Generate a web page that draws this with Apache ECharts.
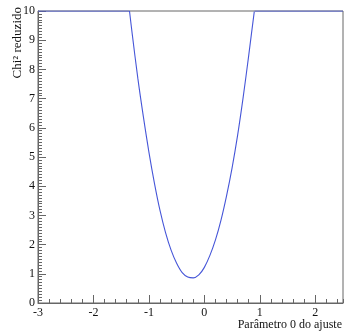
<!DOCTYPE html>
<html>
<head>
<meta charset="utf-8">
<script src="https://cdn.jsdelivr.net/npm/echarts@6/dist/echarts.min.js"></script>
<style>
  html, body { margin: 0; padding: 0; background: #fff; }
  #chart { width: 350px; height: 336px; }
</style>
</head>
<body>
<div id="chart"></div>
<script>
// parâmetro 0 do ajuste (eixo x) e chi² reduzido (cortado em 10)
const paramValues = [-3, -1.35, -1.3, -1.2, -1.1, -1.0, -0.9, -0.8, -0.7, -0.6, -0.5, -0.4, -0.3, -0.2, -0.1,
  0.0, 0.1, 0.2, 0.3, 0.4, 0.5, 0.6, 0.7, 0.8, 0.9, 0.905, 2.5];
const chi2Values = [10, 10, 9.2, 7.7, 6.38, 5.17, 4.1, 3.17, 2.41, 1.81, 1.36, 1.04, 0.89, 0.86, 0.96,
  1.22, 1.63, 2.16, 2.84, 3.67, 4.63, 5.75, 7.05, 8.48, 9.98, 10, 10];

const xTickLabels = [-3, -2, -1, 0, 1, 2];
const yTickLabels = [0, 1, 2, 3, 4, 5, 6, 7, 8, 9, 10];

const xTitle = 'Parâmetro 0 do ajuste';
const yTitle = 'Chi² reduzido';

const serif = '"Liberation Serif", "DejaVu Serif", serif';
const frameColor = '#666';
const curveColor = '#4656d8';

const points = paramValues.map((x, i) => [x, chi2Values[i]]);
// a parte plana (valor cortado no máximo) sem suavização, a parábola com suavização
const n = points.length;
const leftFlat = points.slice(0, 2);
const curve = points.slice(1, n - 1);
const rightFlat = points.slice(n - 2);

const chart = echarts.init(document.getElementById('chart'), null, { renderer: 'canvas' });

const lineSeries = (data, smooth) => ({
  type: 'line',
  xAxisIndex: 0, yAxisIndex: 0,
  data: data,
  showSymbol: false,
  smooth: smooth,
  clip: true,
  lineStyle: { color: curveColor, width: 1.1 },
  z: 5
});

chart.setOption({
  backgroundColor: '#fff',
  animation: false,
  grid: {
    left: 38, right: 7, top: 11, bottom: 33,
    show: true, borderColor: frameColor, borderWidth: 1, backgroundColor: 'transparent'
  },
  xAxis: [
    {
      type: 'value', min: -3, max: 2.5, interval: 1,
      axisLine: { show: true, onZero: false, lineStyle: { color: frameColor, width: 1 } },
      axisTick: { show: true, inside: true, length: 8, lineStyle: { color: frameColor } },
      axisLabel: {
        show: true, margin: 4, showMaxLabel: false,
        color: '#111', fontFamily: serif, fontSize: 12,
        formatter: v => (xTickLabels.indexOf(Math.round(v)) >= 0 && Math.abs(v - Math.round(v)) < 1e-6) ? String(Math.round(v)) : ''
      },
      splitLine: { show: false }
    },
    {
      type: 'value', min: -3, max: 2.5, interval: 0.2, position: 'bottom',
      axisLine: { show: false, onZero: false },
      axisTick: { show: true, inside: true, length: 4, lineStyle: { color: frameColor } },
      axisLabel: { show: false },
      splitLine: { show: false }
    }
  ],
  yAxis: [
    {
      type: 'value', min: 0, max: 10, interval: 1,
      axisLine: { show: true, onZero: false, lineStyle: { color: frameColor, width: 1 } },
      axisTick: { show: true, inside: true, length: 8, lineStyle: { color: frameColor } },
      axisLabel: {
        show: true, margin: 3,
        color: '#111', fontFamily: serif, fontSize: 12,
        formatter: v => yTickLabels.indexOf(Math.round(v)) >= 0 ? String(Math.round(v)) : ''
      },
      splitLine: { show: false }
    },
    {
      type: 'value', min: 0, max: 10, interval: 0.1, position: 'left',
      axisLine: { show: false, onZero: false },
      axisTick: { show: true, inside: true, length: 4, lineStyle: { color: frameColor } },
      axisLabel: { show: false },
      splitLine: { show: false }
    }
  ],
  graphic: [
    {
      type: 'text', x: 342, y: 319,
      style: { text: xTitle, font: '12px ' + serif, fill: '#111', textAlign: 'right', textVerticalAlign: 'top' }
    },
    {
      type: 'text', x: 18, y: 7, rotation: Math.PI / 2,
      style: { text: yTitle, font: '13px ' + serif, fill: '#111', textAlign: 'right', textVerticalAlign: 'middle' }
    }
  ],
  series: [
    lineSeries(leftFlat, false),
    lineSeries(curve, 0.35),
    lineSeries(rightFlat, false)
  ]
});
</script>
</body>
</html>
